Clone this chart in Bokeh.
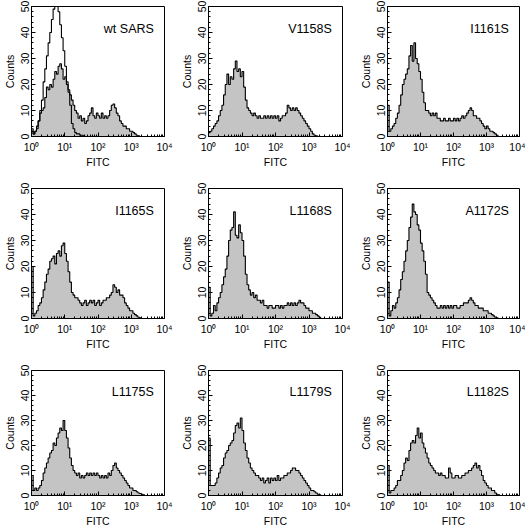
from bokeh.plotting import figure
from bokeh.layouts import column, row
from bokeh.models import Range1d, FixedTicker, CustomJSTickFormatter, Label
from bokeh.embed import file_html
from bokeh.resources import INLINE

# ---- data (log10 of FITC channel left edges, counts per channel) ----
FITC_LOG = [0.00, 0.05, 0.10, 0.15, 0.20, 0.25, 0.30, 0.35, 0.40, 0.45,
            0.50, 0.55, 0.60, 0.65, 0.70, 0.75, 0.80, 0.85, 0.90, 0.95,
            1.00, 1.05, 1.10, 1.15, 1.20, 1.25, 1.30, 1.35, 1.40, 1.45,
            1.50, 1.55, 1.60, 1.65, 1.70, 1.75, 1.80, 1.85, 1.90, 1.95,
            2.00, 2.05, 2.10, 2.15, 2.20, 2.25, 2.30, 2.35, 2.40, 2.45,
            2.50, 2.55, 2.60, 2.65, 2.70, 2.75, 2.80, 2.85, 2.90, 2.95,
            3.00, 3.05, 3.10, 3.15, 3.20, 3.25, 3.30, 3.35, 3.40, 3.45]

PANEL_NAMES = ["wt SARS", "V1158S", "I1161S",
               "I1165S", "L1168S", "A1172S",
               "L1175S", "L1179S", "L1182S"]

WT_SARS = [3, 1, 2, 4, 6, 9, 10, 11, 15, 19, 18, 20, 19, 22, 25, 24, 27, 28, 26, 22,
           23, 20, 18, 16, 14, 12, 10, 9, 7, 8, 6, 7, 5, 6, 8, 9, 11, 8, 7, 9,
           8, 7, 9, 7, 8, 7, 8, 10, 12, 12.5, 11, 9, 8, 6, 5, 4, 4, 3, 3, 2,
           2, 1.5, 1, 0.5, 0.3, 0, 0, 0, 0, 0]
WT_CONTROL = [2, 1, 2, 3, 6, 10, 14, 21, 26, 31, 36, 40, 45, 49, 53, 52, 48, 43, 38, 33,
              27, 21, 17, 12, 5, 3, 1.5, 1, 1, 0.5, 0.5, 0.3, 0, 0, 0, 0, 0, 0, 0, 0,
              0, 0, 0, 0, 0, 0, 0, 0, 0, 0, 0, 0, 0, 0, 0, 0, 0, 0, 0, 0,
              0, 0, 0, 0, 0, 0, 0, 0, 0, 0]
V1158S = [1.5, 2, 3, 4, 5, 6, 8, 10, 12, 16, 20, 24, 20, 23, 22, 26, 29, 25, 26, 23,
          25, 19, 14, 11, 10, 9, 8, 9, 8, 7, 8, 7, 7, 8, 7, 8, 7, 8, 7, 8,
          7, 8, 6, 7, 8, 8, 9, 12, 11, 10, 11, 10, 11, 10, 9, 8, 7, 6, 5, 4,
          3, 2, 1, 0.5, 0.3, 0, 0, 0, 0, 0]
I1161S = [12, 2, 3, 4, 5, 7, 9, 12, 16, 20, 22, 24, 26, 31, 35, 29, 36, 30, 28, 25,
          22, 17, 13, 10, 10, 9, 8, 9, 8, 9, 7, 7, 6, 6, 7, 6, 6, 7, 6, 6,
          7, 6, 7, 6, 7, 8, 7, 8, 9, 10, 11, 10, 8, 8, 7, 7, 6, 5, 4, 3,
          4, 3, 2, 2, 1.5, 1, 0.5, 0, 0, 0]
I1165S = [20, 1, 2, 3, 5, 6, 8, 11, 14, 17, 19, 22, 23, 24, 21, 25, 26, 24, 28, 29,
          25, 22, 18, 14, 10, 9, 8, 8, 7, 6, 5, 6, 7, 5, 6, 7, 6, 7, 5, 6,
          7, 5, 6, 7, 7, 8, 8, 9, 10, 13, 12, 10, 11, 9, 9, 8, 6, 5, 4, 3,
          3, 2, 1.5, 1, 0.5, 0.3, 0, 0, 0, 0]
L1168S = [12, 1, 2, 5, 3, 6, 8, 10, 13, 16, 19, 24, 30, 34, 35, 41, 32, 31, 36, 33,
          30, 24, 17, 13, 11, 9, 10, 8, 9, 7, 7, 6, 7, 5, 5, 4, 5, 5, 4, 4,
          5, 5, 4, 5, 4, 5, 5, 6, 5, 6, 5, 6, 5, 6, 7, 6, 6, 5, 4, 4,
          3, 3, 2, 2, 1.5, 1, 0.5, 0, 0, 0]
A1172S = [14, 1, 3, 5, 4, 6, 8, 11, 15, 18, 22, 26, 30, 35, 39, 44, 41, 40, 36, 34,
          29, 26, 22, 17, 10, 9, 8, 7, 6, 5, 4, 4, 5, 4, 5, 4, 5, 4, 5, 4,
          5, 5, 4, 4, 5, 5, 6, 6, 6, 7, 8, 7, 6, 5, 5, 4, 4, 4, 3, 3,
          3, 2, 2, 1.5, 1, 0.5, 0.3, 0, 0, 0]
L1175S = [8, 2, 3, 2, 3, 4, 6, 9, 11, 13, 15, 17, 18, 21, 20, 23, 25, 27, 26, 30,
          26, 23, 19, 15, 12, 10, 9, 8, 9, 7, 8, 7, 8, 9, 8, 9, 8, 9, 8, 9,
          8, 7, 8, 7, 8, 7, 9, 8, 10, 12, 13, 11, 10, 9, 8, 7, 6, 5, 4, 3,
          3, 2, 2, 1.5, 1, 0.8, 0.5, 0.3, 0, 0]
L1179S = [23, 4, 4, 4, 5, 7, 9, 11, 12, 15, 17, 18, 20, 21, 22, 25, 28, 29, 27, 31,
          26, 21, 18, 15, 13, 11, 10, 9, 8, 8, 7, 6, 7, 5, 6, 7, 5, 7, 6, 7,
          6, 8, 6, 7, 7, 8, 8, 9, 9, 10, 11, 11, 10, 10, 9, 8, 7, 6, 5, 4,
          3, 2, 2, 1.5, 1, 0.5, 0.3, 0, 0, 0]
L1182S = [12, 1, 2, 2, 3, 4, 6, 6, 8, 10, 13, 15, 14, 18, 21, 22, 21, 24, 27, 23,
          25, 21, 19, 17, 15, 13, 12, 11, 10, 9, 9, 8, 9, 8, 8, 7, 7, 11, 9, 7,
          7, 8, 8, 7, 7, 8, 8, 9, 9, 10, 10, 11, 12, 13, 11, 12, 10, 8, 6, 5,
          4, 3, 3, 2, 2, 1, 0.5, 0.3, 0, 0]

PANEL_COUNTS = [WT_SARS, V1158S, I1161S, I1165S, L1168S, A1172S, L1175S, L1179S, L1182S]
PANEL_CONTROLS = [WT_CONTROL, None, None, None, None, None, None, None, None]

X_TICKS = [1, 10, 100, 1000, 10000]
X_TICK_LABELS = ["10\u2070", "10\u00b9", "10\u00b2", "10\u00b3", "10\u2074"]
Y_TICKS = [0, 10, 20, 30, 40, 50]
Y_MINOR = [2, 4, 6, 8, 12, 14, 16, 18, 22, 24, 26, 28, 32, 34, 36, 38, 42, 44, 46, 48]
X_MINOR = [m * d for d in (1, 10, 100, 1000) for m in range(2, 10)]

FONT = "Liberation Sans"
FILL = "#c4c4c4"

# layout (page has no margin: Bokeh's page template zeroes it)
COL_W = [177, 179, 169]
COL_R = [13, 14, 6]
ROW_H = [182, 182, 165]
ROW_B = [46, 46, 29]

X_FMT_JS = "return labels[Math.round(Math.log10(tick))];"


def make_panel(idx):
    r, c = divmod(idx, 3)
    p = figure(width=COL_W[c], height=ROW_H[r], x_axis_type="log",
               x_range=Range1d(1, 10000), y_range=Range1d(0, 50),
               output_backend="svg", toolbar_location=None,
               min_border_left=28, min_border_right=COL_R[c],
               min_border_top=6, min_border_bottom=ROW_B[r])
    xs = [10 ** v for v in FITC_LOG]
    counts = PANEL_COUNTS[idx]
    p.varea_step(x=xs, y1=[0] * len(xs), y2=counts, step_mode="after",
                 fill_color=FILL, fill_alpha=1)
    p.step(x=xs, y=counts, mode="after", line_color="black", line_width=1.1)
    ctrl = PANEL_CONTROLS[idx]
    if ctrl is not None:
        p.step(x=xs, y=ctrl, mode="after", line_color="black", line_width=1.1)

    p.xaxis.ticker = FixedTicker(ticks=X_TICKS, minor_ticks=X_MINOR)
    p.xaxis.formatter = CustomJSTickFormatter(args=dict(labels=X_TICK_LABELS), code=X_FMT_JS)
    p.yaxis.ticker = FixedTicker(ticks=Y_TICKS, minor_ticks=Y_MINOR)
    p.yaxis.major_label_orientation = "vertical"
    p.xaxis.axis_label = "FITC"
    p.yaxis.axis_label = "Counts"
    for ax in (p.xaxis[0], p.yaxis[0]):
        ax.major_tick_in = 4
        ax.major_tick_out = 0
        ax.minor_tick_in = 2
        ax.minor_tick_out = 0
        ax.axis_line_color = "black"
        ax.major_tick_line_color = "black"
        ax.minor_tick_line_color = "black"
        ax.major_label_text_font = FONT
        ax.major_label_text_font_size = "10.5px"
        ax.major_label_text_color = "black"
        ax.axis_label_text_font = FONT
        ax.axis_label_text_font_size = "10.5px"
        ax.axis_label_text_font_style = "normal"
        ax.axis_label_text_color = "black"
    p.xaxis.major_label_standoff = 4
    p.xaxis.axis_label_standoff = 0
    p.yaxis.major_label_standoff = 3
    p.yaxis.axis_label_standoff = 2
    p.grid.visible = False
    p.outline_line_color = "black"
    p.outline_line_alpha = 1
    p.outline_line_width = 1

    p.add_layout(Label(x=10 ** 3.68, y=41.5, text=PANEL_NAMES[idx],
                       text_align="right", text_baseline="alphabetic",
                       text_font=FONT, text_font_size="12.5px",
                       text_color="black"))
    return p


panels = [make_panel(i) for i in range(9)]
layout = column(row(*panels[0:3]), row(*panels[3:6]), row(*panels[6:9]))

open("out.html", "w").write(file_html(layout, INLINE))
